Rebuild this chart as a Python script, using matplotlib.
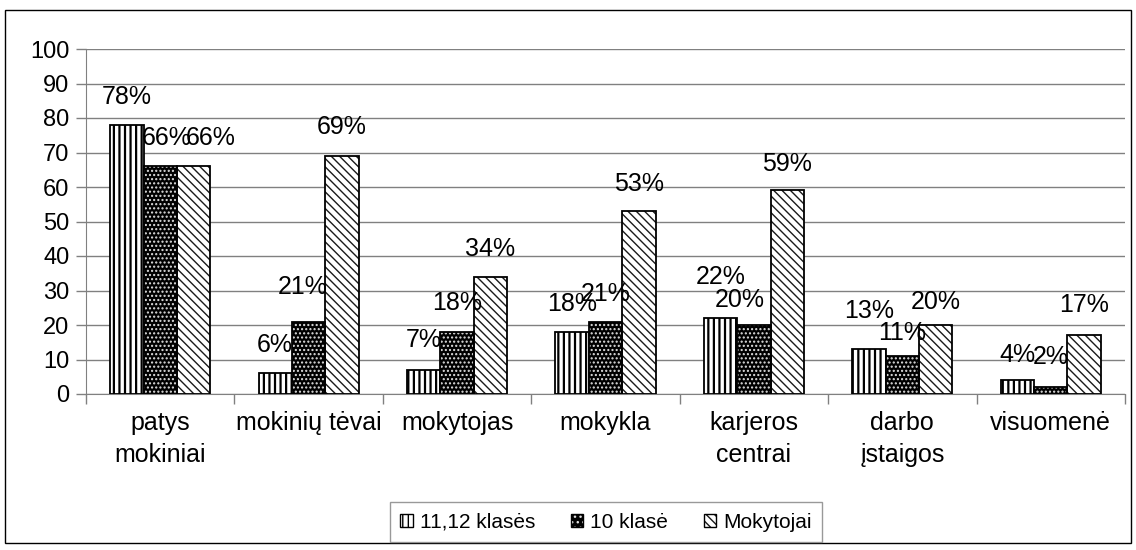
import matplotlib
matplotlib.use("Agg")
import matplotlib.pyplot as plt
import numpy as np
from matplotlib.patches import Rectangle, Patch
from matplotlib.legend_handler import HandlerTuple

plt.rcParams['font.family'] = ['Liberation Sans', 'DejaVu Sans']

categories = ["patys\nmokiniai", "mokinių tėvai", "mokytojas", "mokykla",
              "karjeros\ncentrai", "darbo\nįstaigos", "visuomenė"]
series_names = ["11,12 klasės", "10 klasė", "Mokytojai"]
s_1112 = [78, 6, 7, 18, 22, 13, 4]
s_10 = [66, 21, 18, 21, 20, 11, 2]
s_mok = [66, 69, 34, 53, 59, 20, 17]
yticks = [0, 10, 20, 30, 40, 50, 60, 70, 80, 90, 100]

# label placement (offsets in pixels from bar top / bar center)
lab_dy = [[28, 28, 30, 28, 41, 38, 25],
          [28, 35, 29, 28, 25, 23, 30],
          [28, 29, 28, 27, 26, 23, 30]]
lab_dx = [[0, 0, 0, 0, 0, 0, 0],
          [6, -6, 0, 0, -14, 0, 0],
          [17, 0, 0, 0, 0, 0, 0]]

DPI = 100
fig = plt.figure(figsize=(11.36, 5.50), dpi=DPI)
ax = fig.add_axes([86 / 1136, 1 - 394 / 550, (1125 - 86) / 1136, (394 - 49) / 550])

# outer frame
fig.patches.append(Rectangle((5 / 1136, 7 / 550), 1126 / 1136, 533 / 550,
                             transform=fig.transFigure, fill=False,
                             edgecolor='black', linewidth=1.0, zorder=0))

x = np.arange(len(categories))
w = 0.225
data = [s_1112, s_10, s_mok]
handles = []


def set_hlw(artists, lw):
    for b in artists:
        if hasattr(b, 'set_hatch_linewidth'):
            b.set_hatch_linewidth(lw)


BLW = 1.3

# series 1: white with black vertical stripes
plt.rcParams['hatch.linewidth'] = 1.6
b1 = ax.bar(x - w, s_1112, w, facecolor='white', edgecolor='black',
            hatch='|||', linewidth=BLW, zorder=3)
set_hlw(b1, 1.6)
h1 = Patch(facecolor='white', edgecolor='black', hatch='|||', linewidth=1.0)
set_hlw([h1], 1.6)
handles.append(h1)

# series 2: black with white dots
plt.rcParams['hatch.linewidth'] = 1.0
b2a = ax.bar(x, s_10, w, facecolor='black', edgecolor='#e0e0e0',
             hatch='....', linewidth=0, zorder=3)
set_hlw(b2a, 1.0)
b2b = ax.bar(x, s_10, w, fill=False, edgecolor='black', linewidth=BLW, zorder=4)
h2a = Patch(facecolor='black', edgecolor='#e0e0e0', hatch='...', linewidth=0)
h2b = Patch(fill=False, edgecolor='black', linewidth=1.0)
set_hlw([h2a], 1.0)
handles.append((h2a, h2b))

# series 3: white with dark diagonal lines
b3a = ax.bar(x + w, s_mok, w, facecolor='white', edgecolor='#1a1a1a',
             hatch='\\\\\\\\', linewidth=0, zorder=3)
set_hlw(b3a, 1.0)
b3b = ax.bar(x + w, s_mok, w, fill=False, edgecolor='black', linewidth=BLW, zorder=4)
h3a = Patch(facecolor='white', edgecolor='#1a1a1a', hatch='\\\\\\\\', linewidth=0)
h3b = Patch(fill=False, edgecolor='black', linewidth=1.0)
set_hlw([h3a], 1.0)
handles.append((h3a, h3b))

# data labels
for si, vals in enumerate(data):
    for ci, v in enumerate(vals):
        ax.annotate(f"{v}%", xy=(x[ci] + (si - 1) * w, v),
                    xytext=(lab_dx[si][ci] * 72 / DPI, lab_dy[si][ci] * 72 / DPI),
                    textcoords='offset points', ha='center', va='center',
                    fontsize=18, color='black', zorder=6)

ax.set_xlim(-0.5, len(categories) - 0.5)
ax.set_ylim(0, 100)
ax.set_yticks(yticks)
ax.set_yticklabels([str(t) for t in yticks], fontsize=17)
ax.yaxis.grid(True, color='#808080', linewidth=1.0, zorder=0)
ax.set_axisbelow(True)

ax.set_xticks(np.arange(len(categories) + 1) - 0.5)
ax.set_xticklabels([])
ax.set_xticks(x, minor=True)
ax.set_xticklabels(categories, minor=True, fontsize=18, linespacing=1.45)
ax.tick_params(axis='x', which='minor', length=0, pad=12)
ax.tick_params(axis='x', which='major', length=7, width=1, color='#808080', direction='out')
ax.tick_params(axis='y', length=7, width=1, color='#808080', direction='out', pad=5)

for s in ['top', 'right']:
    ax.spines[s].set_visible(False)
ax.spines['left'].set_color('#808080')
ax.spines['bottom'].set_color('#808080')

leg = fig.legend(handles, series_names, loc='center', bbox_to_anchor=(606 / 1136, 1 - 522 / 550),
                 ncol=3, fontsize=15, frameon=True, fancybox=False, edgecolor='#808080',
                 handlelength=0.6, handleheight=0.6, handletextpad=0.35, columnspacing=1.7,
                 borderpad=0.5, borderaxespad=0,
                 handler_map={tuple: HandlerTuple(ndivide=1, pad=0)})
leg.get_frame().set_linewidth(1.0)

fig.savefig("out.png", dpi=DPI)
